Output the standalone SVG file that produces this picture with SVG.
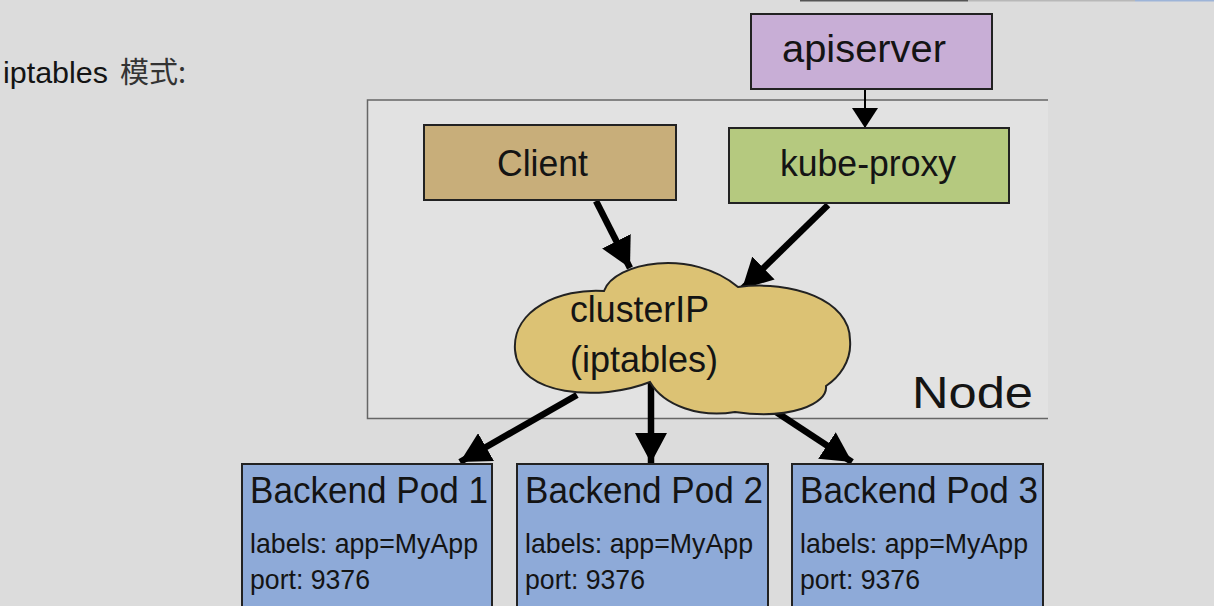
<svg xmlns="http://www.w3.org/2000/svg" width="1214" height="606" viewBox="0 0 1214 606">
<style>
.t{font-family:"Liberation Sans",Arial,sans-serif;fill:#141414}
.box{stroke:#222;stroke-width:2}
.thick{stroke:#000;stroke-width:6.5;fill:none}
</style>
<defs>
<marker id="big" markerUnits="userSpaceOnUse" markerWidth="32" markerHeight="32" refX="30" refY="16" orient="auto">
<path d="M0,0 L30,16 L0,32 z" fill="#000"/>
</marker>
<marker id="small" markerUnits="userSpaceOnUse" markerWidth="22" markerHeight="26" refX="20" refY="13" orient="auto">
<path d="M0,0 L20,13 L0,26 z" fill="#000"/>
</marker>
</defs>
<rect width="1214" height="606" fill="#dcdcdc"/>
<line x1="800" y1="0.5" x2="968" y2="0.5" stroke="#555" stroke-width="2"/>
<line x1="968" y1="0.5" x2="1135" y2="0.5" stroke="#b8b8b8" stroke-width="2"/>
<line x1="1135" y1="0.5" x2="1214" y2="0.5" stroke="#9db4d8" stroke-width="2"/>
<text class="t" x="3" y="83" font-size="29" fill="#222"><tspan textLength="105" lengthAdjust="spacingAndGlyphs">iptables</tspan><tspan x="120" font-size="29" font-family="'Noto Sans CJK SC',sans-serif" fill="#333">模式:</tspan></text>
<g id="node-frame">
<path d="M1048,100 H367.5 V418.5 H1048" fill="#e2e2e2" stroke="#666" stroke-width="1.5"/>
<text class="t" x="912" y="408" font-size="45" textLength="121" lengthAdjust="spacingAndGlyphs">Node</text>
</g>
<g id="connectors">
<line x1="865" y1="89" x2="865" y2="128" stroke="#000" stroke-width="2" marker-end="url(#small)"/>
<line class="thick" x1="596" y1="201" x2="630" y2="268" marker-end="url(#big)"/>
<line class="thick" x1="828" y1="205" x2="742" y2="289" marker-end="url(#big)"/>
<line class="thick" x1="577" y1="395" x2="460" y2="462" marker-end="url(#big)"/>
<line class="thick" x1="651" y1="382" x2="651" y2="463" marker-end="url(#big)"/>
<line class="thick" x1="770" y1="408" x2="852" y2="462" marker-end="url(#big)"/>
</g>
<g id="apiserver">
<rect class="box" x="751" y="14" width="241" height="75" fill="#c8aed6"/>
<text class="t" x="782" y="62" font-size="38" textLength="164" lengthAdjust="spacingAndGlyphs">apiserver</text>
</g>
<g id="kube-proxy">
<rect class="box" x="729" y="128" width="280" height="75" fill="#b5c97f"/>
<text class="t" x="780" y="176" font-size="36" textLength="176" lengthAdjust="spacingAndGlyphs">kube-proxy</text>
</g>
<g id="client">
<rect class="box" x="424" y="125" width="252" height="75" fill="#c8ae7a"/>
<text class="t" x="497" y="176" font-size="37" textLength="91" lengthAdjust="spacingAndGlyphs">Client</text>
</g>
<g id="clusterIP">
<path d="M650,382 C600,402 518,396 515,350 C512,310 560,288 604,291 C614,262 692,248 738,287 C792,280 850,300 850,340 C852,362 838,378 826,386 C828,404 790,420 735,412 C700,418 664,406 650,382 Z" fill="#dcc274" stroke="#222" stroke-width="2"/>
<text class="t" x="570" y="322" font-size="36" textLength="139" lengthAdjust="spacingAndGlyphs">clusterIP</text>
<text class="t" x="570" y="372" font-size="36" textLength="148" lengthAdjust="spacingAndGlyphs">(iptables)</text>
</g>
<g id="pod1">
<rect class="box" x="242" y="464" width="250" height="150" fill="#8eaad8"/>
<text class="t" x="250" y="503" font-size="36" textLength="238" lengthAdjust="spacingAndGlyphs">Backend Pod 1</text>
<text class="t" x="250" y="553" font-size="28" textLength="228" lengthAdjust="spacingAndGlyphs">labels: app=MyApp</text>
<text class="t" x="250" y="589" font-size="28" textLength="120" lengthAdjust="spacingAndGlyphs">port: 9376</text>
</g>
<g id="pod2">
<rect class="box" x="517" y="464" width="251" height="150" fill="#8eaad8"/>
<text class="t" x="525" y="503" font-size="36" textLength="238" lengthAdjust="spacingAndGlyphs">Backend Pod 2</text>
<text class="t" x="525" y="553" font-size="28" textLength="228" lengthAdjust="spacingAndGlyphs">labels: app=MyApp</text>
<text class="t" x="525" y="589" font-size="28" textLength="120" lengthAdjust="spacingAndGlyphs">port: 9376</text>
</g>
<g id="pod3">
<rect class="box" x="792" y="464" width="251" height="150" fill="#8eaad8"/>
<text class="t" x="800" y="503" font-size="36" textLength="238" lengthAdjust="spacingAndGlyphs">Backend Pod 3</text>
<text class="t" x="800" y="553" font-size="28" textLength="228" lengthAdjust="spacingAndGlyphs">labels: app=MyApp</text>
<text class="t" x="800" y="589" font-size="28" textLength="120" lengthAdjust="spacingAndGlyphs">port: 9376</text>
</g>
</svg>
